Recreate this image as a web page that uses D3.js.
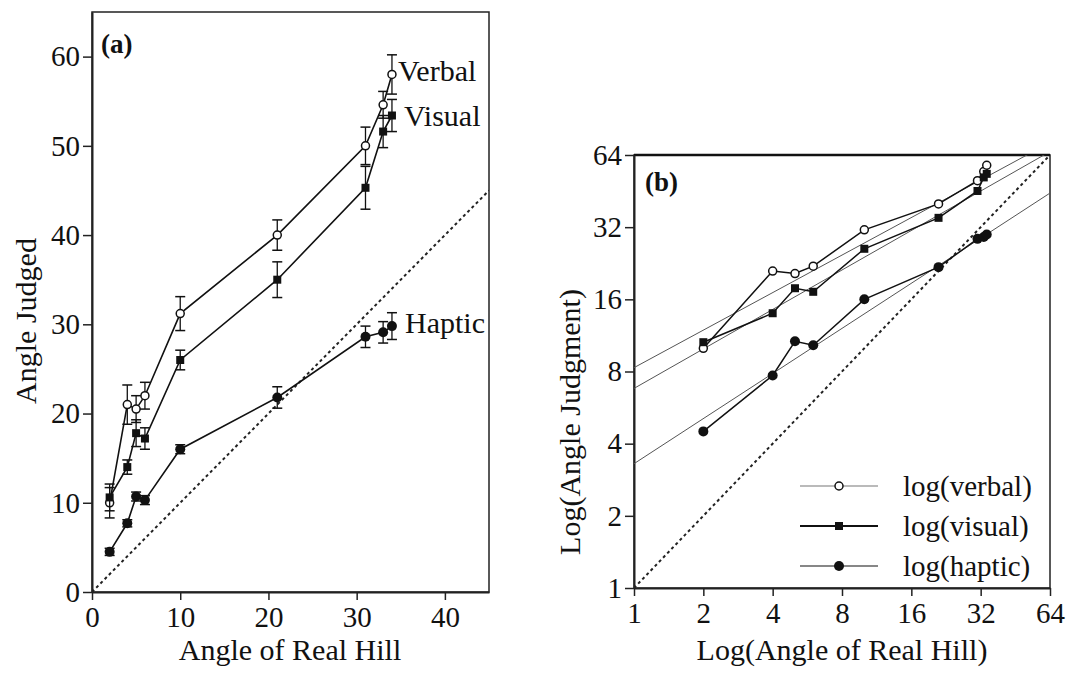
<!DOCTYPE html>
<html>
<head>
<meta charset="utf-8">
<script src="https://cdn.jsdelivr.net/npm/d3@7"></script>
<style>
    body { margin: 0; background: #fff; }
    svg text { font-family: "Liberation Serif", "Times New Roman", serif; fill: #111; }
</style>
</head>
<body>
<svg id="chart" width="1087" height="674"></svg>
<script>

// real hill angles (deg) shared by all three measures
const realAngles = [2, 4, 5, 6, 10, 21, 31, 33, 34];

// mean judgments
const verbal    = [10.0, 21.0, 20.5, 22.0, 31.2, 40.0, 50.0, 54.6, 58.0];
const verbalErr = [1.7, 2.2, 1.5, 1.5, 1.9, 1.7, 2.1, 1.5, 2.2];
const visual    = [10.6, 14.0, 17.8, 17.2, 26.0, 35.0, 45.3, 51.6, 53.4];
const visualErr = [1.5, 0.8, 1.5, 1.2, 1.1, 2.0, 2.4, 1.8, 1.8];
const haptic    = [4.5, 7.7, 10.7, 10.3, 16.0, 21.8, 28.6, 29.1, 29.8];
const hapticErr = [0.4, 0.4, 0.5, 0.5, 0.5, 1.2, 1.2, 1.2, 1.5];

// power fits in panel (b): judgment at 1 deg and log-log slope
const fitNames     = ["verbal", "visual", "haptic"];
const fitAtOne     = [8.3, 6.8, 3.3];
const fitSlope     = [0.52, 0.547, 0.625];

// axis ticks
const ticksA_x = [0, 10, 20, 30, 40];
const ticksA_y = [0, 10, 20, 30, 40, 50, 60];
const ticksB   = [1, 2, 4, 8, 16, 32, 64];


class HillVis {

    constructor(_parentElement) {
        this.parentElement = _parentElement;

        this.series = [
            {name: "Verbal", legend: "log(verbal)", vals: verbal, err: verbalErr, shape: "open"},
            {name: "Visual", legend: "log(visual)", vals: visual, err: visualErr, shape: "square"},
            {name: "Haptic", legend: "log(haptic)", vals: haptic, err: hapticErr, shape: "dot"}
        ];

        this.initVis();
    }

    initVis() {
        let vis = this;

        vis.svg = d3.select("#" + vis.parentElement);

        // panel (a) scales
        vis.xA = d3.scaleLinear().domain([0, 45]).range([92, 489]);
        vis.yA = d3.scaleLinear().domain([0, 65]).range([592, 12]);

        // panel (b) scales, log base 2
        vis.xB = d3.scaleLog().base(2).domain([1, 64]).range([634, 1050]);
        vis.yB = d3.scaleLog().base(2).domain([1, 64]).range([588, 155]);

        vis.svg.append("clipPath").attr("id", "clipB")
            .append("rect")
            .attr("x", 634).attr("y", 155)
            .attr("width", 1050 - 634).attr("height", 588 - 155);

        vis.svg.append("clipPath").attr("id", "clipA")
            .append("rect")
            .attr("x", 92).attr("y", 12)
            .attr("width", 489 - 92).attr("height", 592 - 12);

        vis.drawPanelA();
        vis.drawPanelB();
    }

    drawMarker(g, shape, x, y) {
        if (shape === "open") {
            g.append("circle").attr("cx", x).attr("cy", y).attr("r", 4)
                .attr("fill", "#fff").attr("stroke", "#111").attr("stroke-width", 1.5);
        } else if (shape === "square") {
            g.append("rect").attr("x", x - 4).attr("y", y - 4)
                .attr("width", 8).attr("height", 8).attr("fill", "#111");
        } else {
            g.append("circle").attr("cx", x).attr("cy", y).attr("r", 5).attr("fill", "#111");
        }
    }

    drawPanelA() {
        let vis = this;
        let g = vis.svg.append("g").attr("class", "panelA");

        // frame
        g.append("rect")
            .attr("x", 92).attr("y", 12)
            .attr("width", 489 - 92).attr("height", 592 - 12)
            .attr("fill", "none").attr("stroke", "#222").attr("stroke-width", 1.5);

        // axes
        let xAxis = d3.axisBottom(vis.xA).tickValues(ticksA_x).tickSize(8).tickSizeOuter(0).tickPadding(6);
        let yAxis = d3.axisLeft(vis.yA).tickValues(ticksA_y).tickSize(9).tickSizeOuter(0).tickPadding(3);

        g.append("g").attr("transform", "translate(0,592)").call(xAxis);
        g.append("g").attr("transform", "translate(92,0)").call(yAxis);

        g.selectAll(".domain").attr("stroke", "#222").attr("stroke-width", 2);
        g.selectAll(".tick line").attr("stroke", "#222").attr("stroke-width", 1.5);
        g.selectAll(".tick text").style("font-size", "29px");

        // identity line
        g.append("line")
            .attr("clip-path", "url(#clipA)")
            .attr("x1", vis.xA(0)).attr("y1", vis.yA(0))
            .attr("x2", vis.xA(45)).attr("y2", vis.yA(45))
            .attr("stroke", "#222").attr("stroke-width", 2)
            .attr("stroke-dasharray", "3,3");

        let line = d3.line()
            .x(d => vis.xA(d[0]))
            .y(d => vis.yA(d[1]));

        vis.series.forEach(s => {
            let pts = realAngles.map((a, i) => [a, s.vals[i], s.err[i]]);

            g.append("path")
                .datum(pts)
                .attr("d", line)
                .attr("fill", "none")
                .attr("stroke", "#111")
                .attr("stroke-width", 1.6);

            // error bars with caps
            pts.forEach(p => {
                let x = vis.xA(p[0]);
                let y0 = vis.yA(p[1] - p[2]), y1 = vis.yA(p[1] + p[2]);
                g.append("line").attr("x1", x).attr("x2", x).attr("y1", y0).attr("y2", y1)
                    .attr("stroke", "#111").attr("stroke-width", 1.3);
                [y0, y1].forEach(yy => {
                    g.append("line").attr("x1", x - 5).attr("x2", x + 5).attr("y1", yy).attr("y2", yy)
                        .attr("stroke", "#111").attr("stroke-width", 1.5);
                });
            });

            pts.forEach(p => vis.drawMarker(g, s.shape, vis.xA(p[0]), vis.yA(p[1])));
        });

        // series labels
        g.append("text").attr("x", 398).attr("y", 81).style("font-size", "30px").text("Verbal");
        g.append("text").attr("x", 404).attr("y", 126).style("font-size", "30px").text("Visual");
        g.append("text").attr("x", 405).attr("y", 333).style("font-size", "30px").text("Haptic");

        g.append("text").attr("x", 101).attr("y", 53)
            .style("font-size", "27px").style("font-weight", "bold").text("(a)");

        // axis titles
        g.append("text")
            .attr("x", 290).attr("y", 660)
            .attr("text-anchor", "middle")
            .style("font-size", "30px")
            .text("Angle of Real Hill");

        g.append("text")
            .attr("transform", "translate(36,321) rotate(-90)")
            .attr("text-anchor", "middle")
            .style("font-size", "30px")
            .text("Angle Judged");
    }

    drawPanelB() {
        let vis = this;
        let g = vis.svg.append("g").attr("class", "panelB");

        g.append("rect")
            .attr("x", 634).attr("y", 155)
            .attr("width", 1050 - 634).attr("height", 588 - 155)
            .attr("fill", "none").attr("stroke", "#222").attr("stroke-width", 1.5);
        g.append("line").attr("x1", 634).attr("x2", 1050).attr("y1", 155).attr("y2", 155)
            .attr("stroke", "#111").attr("stroke-width", 2.5);

        let xAxis = d3.axisBottom(vis.xB).tickValues(ticksB).tickFormat(d3.format("d"))
            .tickSize(8).tickSizeOuter(0).tickPadding(6);
        let yAxis = d3.axisLeft(vis.yB).tickValues(ticksB).tickFormat(d3.format("d"))
            .tickSize(9).tickSizeOuter(0).tickPadding(3);

        g.append("g").attr("transform", "translate(0,588)").call(xAxis);
        g.append("g").attr("transform", "translate(634,0)").call(yAxis);

        g.selectAll(".domain").attr("stroke", "#222").attr("stroke-width", 2);
        g.selectAll(".tick line").attr("stroke", "#222").attr("stroke-width", 1.5);
        g.selectAll(".tick text").style("font-size", "29px");

        let plot = g.append("g").attr("clip-path", "url(#clipB)");

        // identity
        plot.append("line")
            .attr("x1", vis.xB(1)).attr("y1", vis.yB(1))
            .attr("x2", vis.xB(64)).attr("y2", vis.yB(64))
            .attr("stroke", "#222").attr("stroke-width", 2)
            .attr("stroke-dasharray", "3,3");

        // fitted power lines
        fitNames.forEach((n, i) => {
            plot.append("line")
                .attr("x1", vis.xB(1)).attr("y1", vis.yB(fitAtOne[i]))
                .attr("x2", vis.xB(64)).attr("y2", vis.yB(fitAtOne[i] * Math.pow(64, fitSlope[i])))
                .attr("stroke", "#555").attr("stroke-width", 1);
        });

        let line = d3.line()
            .x(d => vis.xB(d[0]))
            .y(d => vis.yB(d[1]));

        vis.series.forEach(s => {
            let pts = realAngles.map((a, i) => [a, s.vals[i]]);
            plot.append("path")
                .datum(pts)
                .attr("d", line)
                .attr("fill", "none")
                .attr("stroke", "#111")
                .attr("stroke-width", 1.5);
            pts.forEach(p => vis.drawMarker(plot, s.shape, vis.xB(p[0]), vis.yB(p[1])));
        });

        // legend
        let legY = [486, 526, 566];
        vis.series.forEach((s, i) => {
            let lg = g.append("g");
            lg.append("line").attr("x1", 800).attr("x2", 878).attr("y1", legY[i]).attr("y2", legY[i])
                .attr("stroke", i === 0 ? "#777" : "#111")
                .attr("stroke-width", i === 1 ? 2 : 1.2);
            vis.drawMarker(lg, s.shape, 839, legY[i]);
            lg.append("text").attr("x", 903).attr("y", legY[i] + 10)
                .style("font-size", "29px").text(s.legend);
        });

        g.append("text").attr("x", 645).attr("y", 191)
            .style("font-size", "27px").style("font-weight", "bold").text("(b)");

        g.append("text")
            .attr("x", 842).attr("y", 660)
            .attr("text-anchor", "middle")
            .style("font-size", "30px")
            .text("Log(Angle of Real Hill)");

        g.append("text")
            .attr("transform", "translate(580,422) rotate(-90)")
            .attr("text-anchor", "middle")
            .style("font-size", "30px")
            .text("Log(Angle Judgment)");
    }
}

new HillVis("chart");

</script>
</body>
</html>
